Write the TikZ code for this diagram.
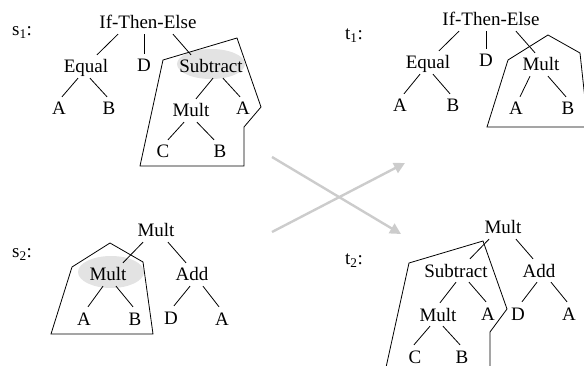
\documentclass[tikz,border=0pt]{standalone}
\usepackage{fontspec}
\setmainfont{Liberation Serif}
\usetikzlibrary{arrows.meta}
\begin{document}
\begin{tikzpicture}[x=1pt, y=-1pt,
  lbl/.style={anchor=base, text height=13pt, text depth=0pt, inner xsep=1pt,
              inner ysep=5pt, font=\fontsize{19}{21}\selectfont},
  tag/.style={anchor=base west, inner sep=0pt, font=\fontsize{19}{21}\selectfont},
  hl/.style={fill=gray!22},
  cut/.style={draw, line width=0.8pt, line join=miter},
  ln/.style={line width=0.8pt},
  arr/.style={-{Triangle[length=11pt,width=11pt]}, line width=2.4pt, color=gray!40}
]
  \clip (0,0) rectangle (584,366);

  % highlighted subtrees
  \fill[hl] (211,64) ellipse [x radius=34pt, y radius=15pt];
  \fill[hl] (111,272) ellipse [x radius=33pt, y radius=16pt];

  % s1
  \node[tag] (s1) at (12,36) {s\textsubscript{1}:};
  \node[lbl] (ite1)  at (148,29)  {If-Then-Else};
  \node[lbl] (eq1)   at (86,73)   {Equal};
  \node[lbl] (d1)    at (144,72)  {D};
  \node[lbl] (sub1)  at (211,73)  {Subtract};
  \node[lbl] (a1)    at (59,115)  {A};
  \node[lbl] (b1)    at (109,115) {B};
  \node[lbl] (mult1) at (191,117) {Mult};
  \node[lbl] (a2)    at (243,115) {A};
  \node[lbl] (c1)    at (163,158) {C};
  \node[lbl] (b2)    at (220,158) {B};

  \draw[ln] ([xshift=-30pt]ite1.south) -- ([xshift=11pt]eq1.north);
  \draw[ln] ([xshift=-4pt]ite1.south) -- (d1.north);
  \draw[ln] ([xshift=25pt]ite1.south) -- ([xshift=-20pt]sub1.north);
  \draw[ln] ([xshift=-8pt]eq1.south) -- ([xshift=3pt]a1.north);
  \draw[ln] ([xshift=4pt]eq1.south) -- ([xshift=-2pt]b1.north);
  \draw[ln] ([xshift=2pt]sub1.south) -- ([xshift=5pt]mult1.north);
  \draw[ln] ([xshift=12pt]sub1.south) -- ([xshift=-3pt]a2.north);
  \draw[ln] ([xshift=-7pt]mult1.south) -- ([xshift=5pt]c1.north);
  \draw[ln] ([xshift=6pt]mult1.south) -- ([xshift=-6pt]b2.north);

  \draw[cut] (163,60) -- (237,38) -- (261,107) -- (244,127) -- (244,166)
    -- (140,166) -- cycle;

  % t1
  \node[tag] (t1) at (345,40) {t\textsubscript{1}:};
  \node[lbl] (ite2)  at (491,26)  {If-Then-Else};
  \node[lbl] (eq2)   at (428,69)  {Equal};
  \node[lbl] (d2)    at (486,67)  {D};
  \node[lbl] (mult2) at (541,71)  {Mult};
  \node[lbl] (a3)    at (400,112) {A};
  \node[lbl] (b3)    at (453,112) {B};
  \node[lbl] (a4)    at (516,115) {A};
  \node[lbl] (b4)    at (568,115) {B};

  \draw[ln] ([xshift=-32pt]ite2.south) -- ([xshift=11pt]eq2.north);
  \draw[ln] ([xshift=-5pt]ite2.south) -- (d2.north);
  \draw[ln] ([xshift=25pt]ite2.south) -- ([xshift=-6pt]mult2.north);
  \draw[ln] ([xshift=-8pt]eq2.south) -- ([xshift=4pt]a3.north);
  \draw[ln] ([xshift=5pt]eq2.south) -- ([xshift=-3pt]b3.north);
  \draw[ln] ([xshift=-11pt]mult2.south) -- ([xshift=4pt]a4.north);
  \draw[ln] ([xshift=7pt]mult2.south) -- ([xshift=-2pt]b4.north);

  \draw[cut] (487,127) -- (508,60) -- (548,35) -- (580,53) -- (588,127) -- cycle;

  % s2
  \node[tag] (s2) at (12,258) {s\textsubscript{2}:};
  \node[lbl] (mult3) at (156,237) {Mult};
  \node[lbl] (mult4) at (108,281) {Mult};
  \node[lbl] (add1)  at (192,281) {Add};
  \node[lbl] (a5)    at (84,325)  {A};
  \node[lbl] (b5)    at (135,325) {B};
  \node[lbl] (d3)    at (171,324) {D};
  \node[lbl] (a6)    at (222,325) {A};

  \draw[ln] ([xshift=-13pt]mult3.south) -- ([xshift=15pt]mult4.north);
  \draw[ln] ([xshift=12pt]mult3.south) -- ([xshift=-6pt]add1.north);
  \draw[ln] ([xshift=-5pt]mult4.south) -- ([xshift=4pt]a5.north);
  \draw[ln] ([xshift=8pt]mult4.south) -- ([xshift=-2pt]b5.north);
  \draw[ln] ([xshift=-2pt]add1.south) -- ([xshift=3pt]d3.north);
  \draw[ln] ([xshift=11pt]add1.south) -- ([xshift=-3pt]a6.north);

  \draw[cut] (51,334) -- (72,267) -- (110,243) -- (143,262) -- (153,334) -- cycle;

  % t2
  \node[tag] (t2) at (345,265) {t\textsubscript{2}:};
  \node[lbl] (mult5) at (503,234) {Mult};
  \node[lbl] (sub2)  at (456,277) {Subtract};
  \node[lbl] (add2)  at (539,277) {Add};
  \node[lbl] (mult6) at (438,321) {Mult};
  \node[lbl] (a7)    at (488,320) {A};
  \node[lbl] (d4)    at (518,320) {D};
  \node[lbl] (a8)    at (569,320) {A};
  \node[lbl] (c2)    at (415,363) {C};
  \node[lbl] (b6)    at (462,363) {B};

  \draw[ln] ([xshift=-14pt]mult5.south) -- ([xshift=14pt]sub2.north);
  \draw[ln] ([xshift=13pt]mult5.south) -- ([xshift=-6pt]add2.north);
  \draw[ln] (sub2.south) -- ([xshift=2pt]mult6.north);
  \draw[ln] ([xshift=13pt]sub2.south) -- ([xshift=-2pt]a7.north);
  \draw[ln] ([xshift=-2pt]add2.south) -- ([xshift=4pt]d4.north);
  \draw[ln] ([xshift=12pt]add2.south) -- ([xshift=-2pt]a8.north);
  \draw[ln] ([xshift=-8pt]mult6.south) -- ([xshift=-1pt]c2.north);
  \draw[ln] ([xshift=5pt]mult6.south) -- ([xshift=-2pt]b6.north);

  \draw[cut] (385,372) -- (409,263) -- (483,241) -- (507,309) -- (490,332)
    -- (490,372);

  % crossover arrows
  \coordinate (from1) at (272,157);
  \coordinate (to1)   at (401,234);
  \coordinate (from2) at (272,232);
  \coordinate (to2)   at (405,163);
  \draw[arr] (from1) -- (to1);
  \draw[arr] (from2) -- (to2);
\end{tikzpicture}
\end{document}
